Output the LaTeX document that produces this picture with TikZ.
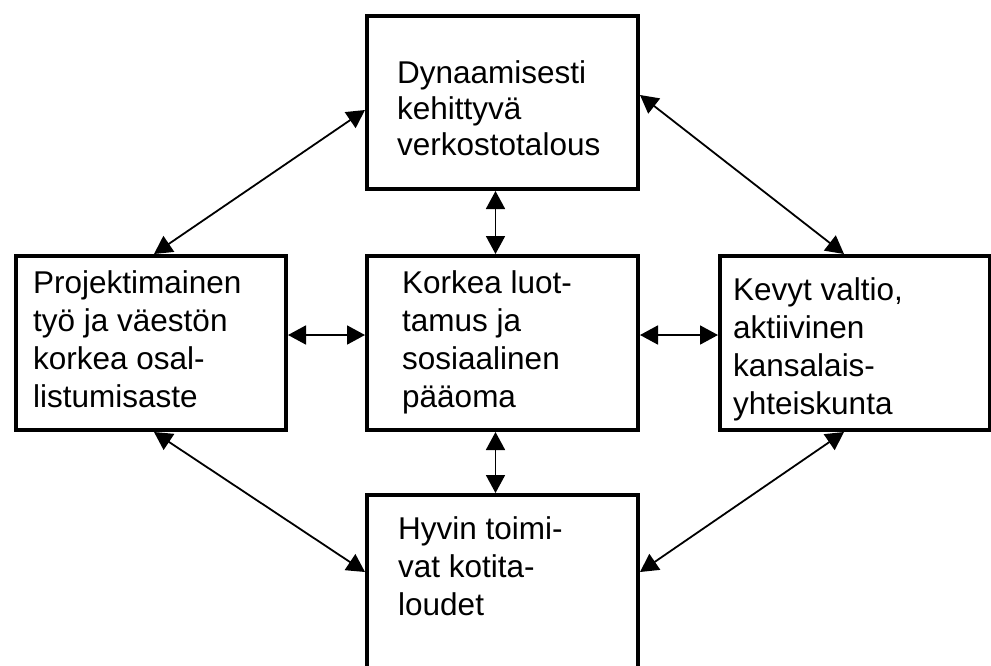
\documentclass[tikz,border=0pt]{standalone}
\usepackage{fontspec}
\setmainfont{Liberation Sans}
\usetikzlibrary{arrows.meta}
\begin{document}
\begin{tikzpicture}[x=1pt,y=-1pt,
  box/.style={draw, line width=4pt, inner sep=0pt, anchor=north west},
  txt/.style={anchor=base west, align=left, inner sep=0pt, font=\fontsize{31.5}{38}\selectfont},
  arr/.style={line width=1.8pt, {Triangle[length=18pt,width=19pt]}-{Triangle[length=18pt,width=19pt]}}]
\useasboundingbox (0,0) rectangle (991,665);
\clip (0,0) rectangle (991,665);
\node[box, minimum width=271pt, minimum height=173pt] (top) at (365,14) {};
\node[box, minimum width=270pt, minimum height=174pt] (left) at (14,254) {};
\node[box, minimum width=271pt, minimum height=174pt] (center) at (365,254) {};
\node[box, minimum width=270pt, minimum height=174pt] (right) at (718,254) {};
\node[box, minimum width=271pt, minimum height=250pt] (bottom) at (365,493) {};
\node[txt, font=\fontsize{31.5}{36}\selectfont] (ttop) at (397,155) {Dynaamisesti\\kehittyvä\\verkostotalous};
\node[txt] (tleft) at (33,407) {Projektimainen\\työ ja väestön\\korkea osal-\\listumisaste};
\node[txt] (tcenter) at (402,407) {Korkea luot-\\tamus ja\\sosiaalinen\\pääoma};
\node[txt] (tright) at (733,414) {Kevyt valtio,\\aktiivinen\\kansalais-\\yhteiskunta};
\node[txt] (tbottom) at (398,615) {Hyvin toimi-\\vat kotita-\\loudet};
\draw[arr] ([xshift=-7pt]top.south) -- ([xshift=-7pt]center.north);
\draw[arr] ([xshift=-7pt]center.south) -- ([xshift=-7pt]bottom.north);
\draw[arr] ([yshift=8pt]left.east) -- ([yshift=8pt]center.west);
\draw[arr] ([yshift=8pt]center.east) -- ([yshift=8pt]right.west);
\draw[arr] ([xshift=3pt]left.north) -- ([yshift=-7.5pt]top.west);
\draw[arr] ([yshift=7.5pt]top.east) -- ([xshift=-11pt]right.north);
\draw[arr] ([xshift=3pt]left.south) -- ([yshift=-79pt]bottom.north west);
\draw[arr] ([xshift=-11pt]right.south) -- ([yshift=-79pt]bottom.north east);
\end{tikzpicture}
\end{document}
